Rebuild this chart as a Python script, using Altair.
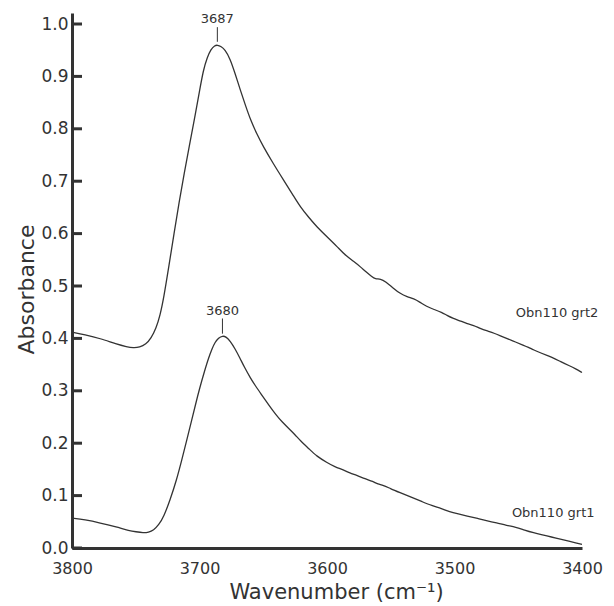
import altair as alt
import pandas as pd

# ---- data ----
grt2_wn = [3800, 3790, 3778, 3765, 3757, 3752, 3747, 3742, 3738, 3734, 3731, 3728,
           3724, 3720, 3716, 3712, 3708, 3704, 3700, 3697, 3694, 3691, 3688, 3686,
           3683, 3680, 3676, 3672, 3668, 3664, 3660, 3655, 3650, 3642, 3634, 3627,
           3621, 3614, 3608, 3600, 3592, 3585, 3578, 3574, 3569, 3565, 3562, 3558,
           3554, 3548, 3543, 3537, 3532, 3527, 3522, 3516, 3510, 3506, 3501, 3495,
           3490, 3485, 3480, 3474, 3469, 3464, 3459, 3452, 3446, 3442, 3438, 3432,
           3427, 3422, 3417, 3410, 3405, 3400]
grt2_abs = [0.412, 0.407, 0.400, 0.389, 0.384, 0.382, 0.383, 0.389, 0.400, 0.420, 0.443, 0.478,
            0.538, 0.600, 0.660, 0.715, 0.767, 0.818, 0.872, 0.912, 0.936, 0.952, 0.959, 0.960,
            0.957, 0.951, 0.934, 0.905, 0.874, 0.845, 0.817, 0.790, 0.766, 0.733, 0.702, 0.675,
            0.651, 0.630, 0.613, 0.594, 0.575, 0.557, 0.545, 0.537, 0.526, 0.518, 0.513, 0.514,
            0.508, 0.496, 0.486, 0.479, 0.476, 0.469, 0.461, 0.455, 0.450, 0.444, 0.438, 0.433,
            0.428, 0.425, 0.419, 0.414, 0.410, 0.405, 0.400, 0.393, 0.387, 0.383, 0.378, 0.372,
            0.367, 0.362, 0.356, 0.348, 0.342, 0.335]

grt1_wn = [3800, 3790, 3778, 3765, 3755, 3750, 3744, 3740, 3736, 3732, 3728, 3723,
           3718, 3714, 3710, 3706, 3703, 3700, 3696, 3693, 3690, 3688, 3685, 3682,
           3679, 3676, 3672, 3668, 3665, 3660, 3656, 3652, 3646, 3640, 3635, 3630,
           3625, 3621, 3614, 3608, 3600, 3594, 3587, 3582, 3577, 3570, 3564, 3560,
           3556, 3550, 3543, 3534, 3525, 3518, 3510, 3504, 3497, 3490, 3483, 3475,
           3467, 3459, 3452, 3445, 3438, 3431, 3424, 3417, 3410, 3405, 3400]
grt1_abs = [0.057, 0.054, 0.048, 0.040, 0.033, 0.031, 0.029, 0.030, 0.034, 0.044, 0.060, 0.092,
            0.130, 0.167, 0.206, 0.245, 0.275, 0.304, 0.338, 0.362, 0.381, 0.392, 0.401, 0.405,
            0.403, 0.395, 0.380, 0.361, 0.346, 0.324, 0.309, 0.295, 0.274, 0.254, 0.240, 0.228,
            0.216, 0.205, 0.189, 0.175, 0.163, 0.155, 0.149, 0.143, 0.139, 0.132, 0.127, 0.122,
            0.120, 0.113, 0.106, 0.097, 0.088, 0.081, 0.075, 0.069, 0.065, 0.061, 0.057, 0.052,
            0.048, 0.043, 0.040, 0.034, 0.029, 0.025, 0.021, 0.017, 0.013, 0.010, 0.007]

series_names = ["Obn110 grt2", "Obn110 grt1"]
series_label_wn = [3452, 3455]
series_label_abs = [0.449, 0.066]

peak_labels = ["3687", "3680"]
peak_wn = [3686, 3682]
peak_line_lo = [0.966, 0.409]
peak_line_hi = [0.994, 0.438]
peak_text_abs = [1.010, 0.453]

y_ticks = [0.0, 0.1, 0.2, 0.3, 0.4, 0.5, 0.6, 0.7, 0.8, 0.9, 1.0]
x_ticks = [3800, 3700, 3600, 3500, 3400]

# ---- tables ----
rows = []
for name, wns, ab in [(series_names[0], grt2_wn, grt2_abs), (series_names[1], grt1_wn, grt1_abs)]:
    for i, (w, a) in enumerate(zip(wns, ab)):
        rows.append({"series": name, "wn": w, "abs": a, "idx": i})
curves = pd.DataFrame(rows)
labels_df = pd.DataFrame({"name": series_names, "wn": series_label_wn, "abs": series_label_abs})
peaks_df = pd.DataFrame({"label": peak_labels, "wn": peak_wn, "lo": peak_line_lo,
                         "hi": peak_line_hi, "ty": peak_text_abs})
ticks_df = pd.DataFrame({"v": y_ticks})

INK = "#333333"
FONT = "DejaVu Sans"

xscale = alt.Scale(domain=[3400, 3800], reverse=True, nice=False, zero=False)
yscale = alt.Scale(domain=[0, 1.021], nice=False, zero=False)

x_enc = alt.X("wn:Q", scale=xscale,
              axis=alt.Axis(values=x_ticks, format="d", ticks=False, tickSize=0, grid=False,
                            domainColor=INK, domainWidth=3, labelFont=FONT, labelFontSize=16,
                            labelColor=INK, labelPadding=12,
                            title="Wavenumber (cm⁻¹)", titleFont=FONT, titleFontSize=21,
                            titleFontWeight="normal", titleColor=INK,
                            titleX=264, titleY=50, titleBaseline="alphabetic",
                            titleAlign="center", labelFlush=False))
y_enc = alt.Y("abs:Q", scale=yscale,
              axis=alt.Axis(values=y_ticks, format=".1f", ticks=False, tickSize=0, grid=False,
                            domainColor=INK, domainWidth=3, labelFont=FONT, labelFontSize=17,
                            labelColor=INK, labelPadding=4,
                            title="Absorbance", titleFont=FONT, titleFontSize=22,
                            titleFontWeight="normal", titleColor=INK,
                            titleX=-39, titleY=276, titleBaseline="alphabetic",
                            titleAlign="center", titleAngle=270, labelFlush=False))

lines = alt.Chart(curves).mark_line(color=INK, strokeWidth=1.3, interpolate="basis").encode(
    x=x_enc, y=y_enc, detail="series:N", order="idx:Q")

yticks = alt.Chart(ticks_df).mark_rule(color=INK, strokeWidth=3).encode(
    y=alt.Y("v:Q", scale=yscale), x=alt.value(0), x2=alt.value(10))

series_text = alt.Chart(labels_df).mark_text(
    align="left", baseline="middle", font=FONT, fontSize=13, color=INK).encode(
    x=alt.X("wn:Q", scale=xscale), y=alt.Y("abs:Q", scale=yscale), text="name:N")

peak_rules = alt.Chart(peaks_df).mark_rule(color=INK, strokeWidth=1).encode(
    x=alt.X("wn:Q", scale=xscale), y=alt.Y("lo:Q", scale=yscale), y2="hi:Q")

peak_text = alt.Chart(peaks_df).mark_text(
    align="center", baseline="middle", font=FONT, fontSize=13, color=INK).encode(
    x=alt.X("wn:Q", scale=xscale), y=alt.Y("ty:Q", scale=yscale), text="label:N")

chart = alt.layer(lines, yticks, peak_rules, peak_text, series_text).properties(
    width=510, height=535,
    autosize=alt.AutoSizeParams(type="none"),
    padding={"left": 72, "top": 13, "right": 32, "bottom": 58},
    background="white",
).configure_view(stroke=None)

chart.save("out.html", embed_options={"renderer": "svg", "actions": False})
